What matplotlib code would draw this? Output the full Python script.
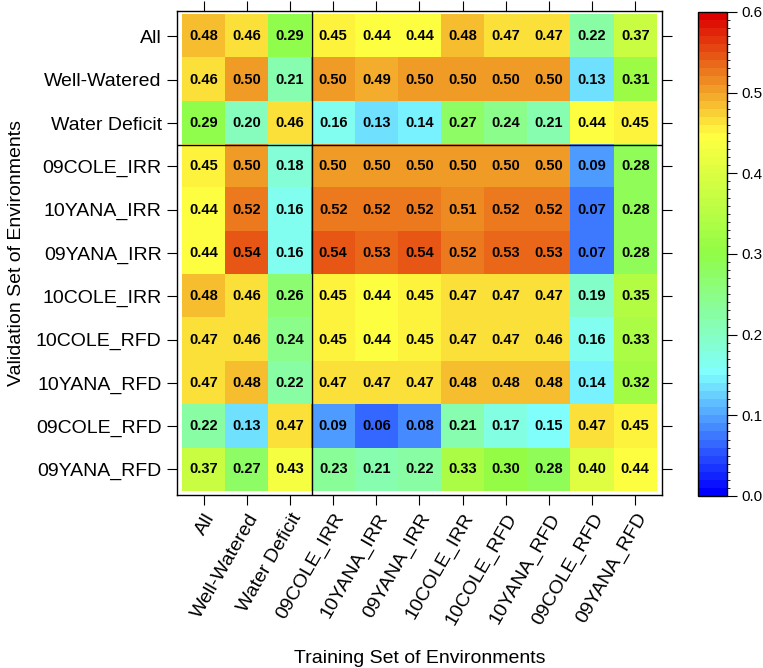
"""Heatmap of prediction accuracy across training / validation environments."""

import numpy as np
import matplotlib
matplotlib.use("Agg")
import matplotlib.pyplot as plt
from matplotlib.colors import LinearSegmentedColormap, BoundaryNorm

plt.rcParams["font.family"] = ["Liberation Sans", "DejaVu Sans"]

envs = ["All", "Well-Watered", "Water Deficit", "09COLE_IRR", "10YANA_IRR",
        "09YANA_IRR", "10COLE_IRR", "10COLE_RFD", "10YANA_RFD", "09COLE_RFD",
        "09YANA_RFD"]

# rows = validation set, columns = training set
row_all = [0.48, 0.46, 0.29, 0.45, 0.44, 0.44, 0.48, 0.47, 0.47, 0.22, 0.37]
row_ww = [0.46, 0.50, 0.21, 0.50, 0.49, 0.50, 0.50, 0.50, 0.50, 0.13, 0.31]
row_wd = [0.29, 0.20, 0.46, 0.16, 0.13, 0.14, 0.27, 0.24, 0.21, 0.44, 0.45]
row_09cole_irr = [0.45, 0.50, 0.18, 0.50, 0.50, 0.50, 0.50, 0.50, 0.50, 0.09, 0.28]
row_10yana_irr = [0.44, 0.52, 0.16, 0.52, 0.52, 0.52, 0.51, 0.52, 0.52, 0.07, 0.28]
row_09yana_irr = [0.44, 0.54, 0.16, 0.54, 0.53, 0.54, 0.52, 0.53, 0.53, 0.07, 0.28]
row_10cole_irr = [0.48, 0.46, 0.26, 0.45, 0.44, 0.45, 0.47, 0.47, 0.47, 0.19, 0.35]
row_10cole_rfd = [0.47, 0.46, 0.24, 0.45, 0.44, 0.45, 0.47, 0.47, 0.46, 0.16, 0.33]
row_10yana_rfd = [0.47, 0.48, 0.22, 0.47, 0.47, 0.47, 0.48, 0.48, 0.48, 0.14, 0.32]
row_09cole_rfd = [0.22, 0.13, 0.47, 0.09, 0.06, 0.08, 0.21, 0.17, 0.15, 0.47, 0.45]
row_09yana_rfd = [0.37, 0.27, 0.43, 0.23, 0.21, 0.22, 0.33, 0.30, 0.28, 0.40, 0.44]

vals = np.array([row_all, row_ww, row_wd, row_09cole_irr, row_10yana_irr,
                 row_09yana_irr, row_10cole_irr, row_10cole_rfd, row_10yana_rfd,
                 row_09cole_rfd, row_09yana_rfd])

cmap = LinearSegmentedColormap.from_list(
    "ramp",
    [(0.0, (0 / 255, 0 / 255, 255 / 255)),
     (0.25, (128 / 255, 255 / 255, 255 / 255)),
     (0.5, (145 / 255, 252 / 255, 70 / 255)),
     (0.75, (255 / 255, 255 / 255, 64 / 255)),
     (1.0, (220 / 255, 0 / 255, 0 / 255))],
    N=60,
)
bounds = np.linspace(0, 0.6, 61)
norm = BoundaryNorm(bounds, cmap.N)

fig = plt.figure(figsize=(7.63, 6.68), dpi=100)
ax = fig.add_axes([0.232, 0.259, 0.6356, 0.7246])
n = len(envs)
ax.imshow(vals, cmap=cmap, norm=norm, aspect="auto", interpolation="nearest")
ax.set_xlim(-0.62, n - 0.38)
ax.set_ylim(n - 0.41, -0.59)

for i in range(n):
    for j in range(n):
        ax.text(j, i, f"{vals[i, j]:.2f}", ha="center", va="center",
                fontsize=10.5, fontweight="bold", color="black")

ax.axvline(2.5, color="black", lw=1)
ax.axhline(2.5, color="black", lw=1)

ax.set_xticks(np.arange(n))
ax.set_yticks(np.arange(n))
ax.set_xticklabels(envs, rotation=60, ha="right", va="top",
                   rotation_mode="anchor", fontsize=14)
ax.set_yticklabels(envs, fontsize=14)
ax.tick_params(direction="out", length=7, width=0.8, top=True, right=True,
               pad=4)
for s in ax.spines.values():
    s.set_linewidth(1)
ax.set_xlabel("Training Set of Environments", fontsize=14, labelpad=16)
ax.set_ylabel("Validation Set of Environments", fontsize=14, labelpad=8)

cax = fig.add_axes([0.9148, 0.2575, 0.038, 0.7246])
sm = matplotlib.cm.ScalarMappable(norm=norm, cmap=cmap)
cb = fig.colorbar(sm, cax=cax, ticks=[0.0, 0.1, 0.2, 0.3, 0.4, 0.5, 0.6])
cb.ax.set_yticklabels(["0.0", "0.1", "0.2", "0.3", "0.4", "0.5", "0.6"])
cb.ax.tick_params(direction="out", length=7, width=0.8, labelsize=11, pad=3)
cb.outline.set_linewidth(1)

fig.savefig("out.png", dpi=100)
